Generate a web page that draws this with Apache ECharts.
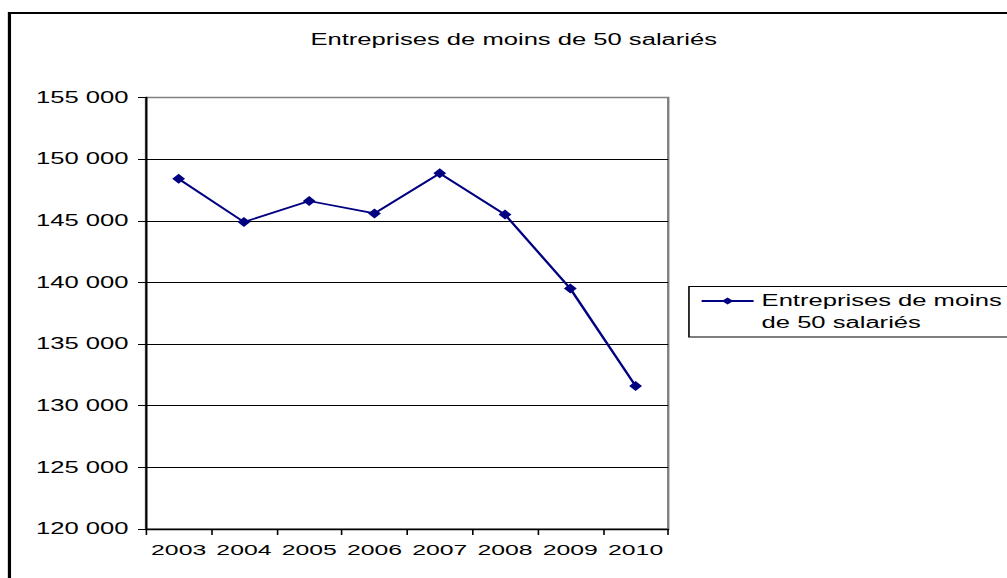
<!DOCTYPE html>
<html>
<head>
<meta charset="utf-8">
<title>Entreprises de moins de 50 salariés</title>
<script src="https://cdn.jsdelivr.net/npm/echarts@6/dist/echarts.min.js"></script>
<style>
  html, body { margin: 0; padding: 0; background: #fff; overflow: hidden; }
  /* The chart is laid out on a narrow canvas and widened horizontally,
     which gives the wide glyphs and flattened markers of the original figure. */
  #chart { width: 630px; height: 578px; transform: scaleX(1.6); transform-origin: 0 0; }
</style>
</head>
<body>
<div id="chart"></div>
<script>
// Number of companies with fewer than 50 employees, per year
const years = ['2003', '2004', '2005', '2006', '2007', '2008', '2009', '2010'];
const companies = [148400, 144900, 146600, 145600, 148850, 145500, 139500, 131600];
const seriesName = 'Entreprises de moins de 50 salariés';
const legendLines = ['Entreprises de moins', 'de 50 salariés'];
const yMin = 120000;
const yMax = 155000;
const yStep = 5000;

const FONT = '"Liberation Sans", Arial, Helvetica, sans-serif';
const NAVY = '#000080';

// thousands separated by a space: 155 000
function frThousands(v) {
  return String(v).replace(/\B(?=(\d{3})+(?!\d))/g, ' ');
}

// grid lines: black, except the top one which sits on the grey plot border
const nLines = Math.round((yMax - yMin) / yStep) + 1;
const splitColors = [];
for (let i = 0; i < nLines; i++) splitColors.push(i === nLines - 1 ? '#808080' : '#000000');

const chart = echarts.init(document.getElementById('chart'), null, { renderer: 'svg' });

chart.setOption({
  animation: false,
  backgroundColor: '#ffffff',
  textStyle: { fontFamily: FONT, color: '#000' },
  title: {
    text: seriesName,
    left: 194,
    top: 32,
    padding: 0,
    textStyle: { fontFamily: FONT, fontSize: 16, fontWeight: 'normal', color: '#000' }
  },
  graphic: [
    // outer frame of the chart
    {
      type: 'rect', silent: true, z: 0,
      shape: { x: 5.9, y: 13, width: 700, height: 700 },
      style: { fill: 'none', stroke: '#000', lineWidth: 2 }
    },
    // legend frame
    {
      type: 'rect', silent: true, z: 1,
      shape: { x: 430.6, y: 286.5, width: 260, height: 50.5 },
      style: { fill: '#fff', stroke: '#000', lineWidth: 1 }
    }
  ],
  legend: {
    left: 437.5,
    top: 268,
    padding: 0,
    z: 5,
    itemWidth: 32.5,
    itemHeight: 9,
    // an empty first line keeps the name's first line level with the symbol
    formatter: function () {
      return '\n' + legendLines.join('\n');
    },
    textStyle: { fontFamily: FONT, fontSize: 16, color: '#000', lineHeight: 22 },
    data: [seriesName]
  },
  grid: {
    left: 91.25,
    top: 97.5,
    width: 326.4,
    height: 431.5,
    show: true,
    borderColor: '#808080',
    borderWidth: 1.5,
    backgroundColor: 'transparent',
    containLabel: false
  },
  xAxis: {
    type: 'category',
    data: years,
    boundaryGap: true,
    axisLine: { show: true, lineStyle: { color: '#000', width: 1.3 } },
    axisTick: { show: true, alignWithLabel: false, length: 6, lineStyle: { color: '#000', width: 1 } },
    axisLabel: { color: '#000', fontFamily: FONT, fontSize: 15.5, margin: 12, interval: 0 },
    splitLine: { show: false }
  },
  yAxis: {
    type: 'value',
    min: yMin,
    max: yMax,
    interval: yStep,
    axisLine: { show: true, lineStyle: { color: '#000', width: 1.3 } },
    axisTick: { show: true, length: 5, lineStyle: { color: '#000', width: 1 } },
    axisLabel: {
      color: '#000', fontFamily: FONT, fontSize: 16, margin: 11,
      formatter: frThousands
    },
    splitLine: { show: true, lineStyle: { color: splitColors, width: 1 } }
  },
  series: [{
    name: seriesName,
    type: 'line',
    data: companies,
    symbol: 'diamond',
    symbolSize: [8, 10],
    showAllSymbol: true,
    lineStyle: { color: NAVY, width: 1.7 },
    itemStyle: { color: NAVY, borderWidth: 0 },
    z: 3
  }]
});
</script>
</body>
</html>
